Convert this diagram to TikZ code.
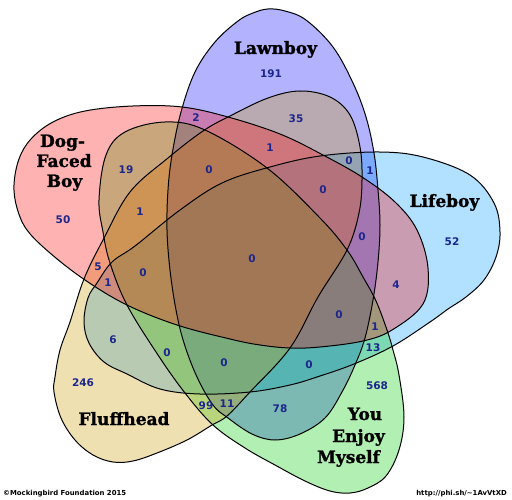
\documentclass[tikz,border=0pt]{standalone}
\usepackage{fontspec}
\setmainfont{DejaVu Sans}
\newfontfamily\labfont{DejaVu Serif Bold}[FakeBold=1.3]
\definecolor{numc}{RGB}{28,38,140}
\definecolor{cB}{RGB}{0,0,255}
\definecolor{cL}{RGB}{0,153,255}
\definecolor{cY}{RGB}{0,204,0}
\definecolor{cF}{RGB}{204,153,0}
\definecolor{cR}{RGB}{255,0,0}
\def\shapeB{(253,-13) (268,-9) (285,-11) (306,-20) (333,-47) (353,-83) (366,-117) (374,-153) (378,-190) (380,-225) (378,-262) (373,-300) (365,-338) (355,-365) (342,-392) (325,-418) (300,-434) (275,-440) (252,-434) (228,-418) (213,-405) (197,-377) (184,-343) (176,-310) (170,-270) (167,-230) (168,-190) (172,-155) (181,-112) (195,-72) (215,-42) (238,-21)}
\def\shapeR{(14,-185) (19,-159) (31,-139) (53,-122) (85,-111) (133,-106) (182,-107) (228,-117) (280,-134) (323,-155) (362,-177) (395,-202) (417,-230) (428,-268) (423,-304) (392,-330) (363,-341) (320,-347) (290,-348) (260,-345) (230,-339) (177,-325) (127,-305) (85,-280) (50,-253) (27,-230) (17,-208)}
\def\shapeL{(84,-322) (88,-298) (97,-283) (112,-262) (135,-246) (180,-210) (222,-183) (270,-167) (320,-156) (379,-152) (423,-157) (470,-175) (494,-203) (500,-232) (496,-257) (484,-280) (466,-297) (448,-309) (430,-322) (393,-346) (354,-364) (320,-376) (290,-385) (250,-392) (200,-394) (160,-389) (127,-374) (104,-362) (89,-343)}
\def\shapeY{(99,-200) (106,-155) (125,-132) (165,-122) (205,-130) (267,-168) (320,-218) (347,-250) (363,-277) (376,-301) (387,-330) (393,-350) (399,-375) (404,-417) (399,-450) (386,-476) (368,-488) (350,-493) (330,-491) (305,-481) (275,-465) (245,-448) (213,-425) (185,-393) (158,-355) (127,-305) (110,-263) (103,-232)}
\def\shapeF{(300,-91) (330,-97) (350,-115) (360,-147) (362,-180) (359,-213) (347,-250) (318,-297) (290,-348) (250,-392) (227,-416) (212,-425) (187,-440) (157,-453) (133,-461) (113,-462) (93,-455) (75,-440) (61,-418) (54,-392) (55,-377) (60,-350) (70,-322) (84,-279) (103,-240) (130,-192) (168,-158) (203,-131) (230,-116) (268,-98)}
\begin{document}
\begin{tikzpicture}[x=1pt,y=1pt,
  num/.style={font=\fontsize{10.5}{12}\selectfont\bfseries, text=numc, inner sep=0pt},
  setlab/.style={font=\labfont\fontsize{17}{21}\selectfont, inner sep=0pt, anchor=base},
  setfill/.style={fill opacity=0.3},
  setline/.style={draw=black, line width=1pt},
  blob/.style={smooth cycle, tension=0.6},
  foot/.style={font=\fontsize{6.9}{8}\selectfont\bfseries, inner sep=0pt, anchor=base}]
\useasboundingbox (0,0) rectangle (512,-500);
\fill[white] (0,0) rectangle (512,-500);
% fills (bottom to top)
\fill[cB,setfill] plot[blob] coordinates {\shapeB};
\fill[cL,setfill] plot[blob] coordinates {\shapeL};
\fill[cY,setfill] plot[blob] coordinates {\shapeY};
\fill[cF,setfill] plot[blob] coordinates {\shapeF};
\fill[cR,setfill] plot[blob] coordinates {\shapeR};
% outlines
\draw[setline] plot[blob] coordinates {\shapeB};
\draw[setline] plot[blob] coordinates {\shapeL};
\draw[setline] plot[blob] coordinates {\shapeY};
\draw[setline] plot[blob] coordinates {\shapeF};
\draw[setline] plot[blob] coordinates {\shapeR};
% set labels
\node[setlab] (lawn) at (275.5,-54) {Lawnboy};
\node[setlab] (life) at (444.5,-207) {Lifeboy};
\node[setlab] (fluff) at (124,-425) {Fluffhead};
\node[setlab] (dog1) at (62.5,-147) {Dog-};
\node[setlab] (dog2) at (64,-167) {Faced};
\node[setlab] (dog3) at (64.5,-187) {Boy};
\node[setlab] (yem1) at (365,-420) {You};
\node[setlab] (yem2) at (358.5,-442) {Enjoy};
\node[setlab] (yem3) at (348.5,-463) {Myself};
% numbers
\node[num] (n191) at (271,-74) {191};
\node[num] (n35) at (296,-119) {35};
\node[num] (n2) at (196,-118) {2};
\node[num] (n1a) at (270,-148) {1};
\node[num] (n19) at (126,-170) {19};
\node[num] (n0a) at (209,-170) {0};
\node[num] (n0b) at (349,-161) {0};
\node[num] (n1b) at (370,-171) {1};
\node[num] (n0c) at (323,-190) {0};
\node[num] (n50) at (63,-220) {50};
\node[num] (n1c) at (140,-212) {1};
\node[num] (n0d) at (362,-237) {0};
\node[num] (n52) at (452,-242) {52};
\node[num] (n0e) at (252,-259) {0};
\node[num] (n5) at (98,-267) {5};
\node[num] (n1d) at (108,-283) {1};
\node[num] (n0f) at (143,-273) {0};
\node[num] (n4) at (396,-285) {4};
\node[num] (n0g) at (339,-315) {0};
\node[num] (n1e) at (375,-327) {1};
\node[num] (n6) at (113,-340) {6};
\node[num] (n13) at (373,-348) {13};
\node[num] (n0h) at (167,-353) {0};
\node[num] (n0i) at (224,-363) {0};
\node[num] (n0j) at (309,-365) {0};
\node[num] (n246) at (83,-383) {246};
\node[num] (n568) at (377,-386) {568};
\node[num] (n99) at (206,-406) {99};
\node[num] (n11) at (227,-404) {11};
\node[num] (n78) at (280,-409) {78};
% footer
\node[foot, anchor=base west] (copy) at (3,-495) {©Mockingbird Foundation 2015};
\node[foot, anchor=base east] (url) at (507,-495) {http://phi.sh/\textasciitilde1AvVtXD};
\end{tikzpicture}
\end{document}
